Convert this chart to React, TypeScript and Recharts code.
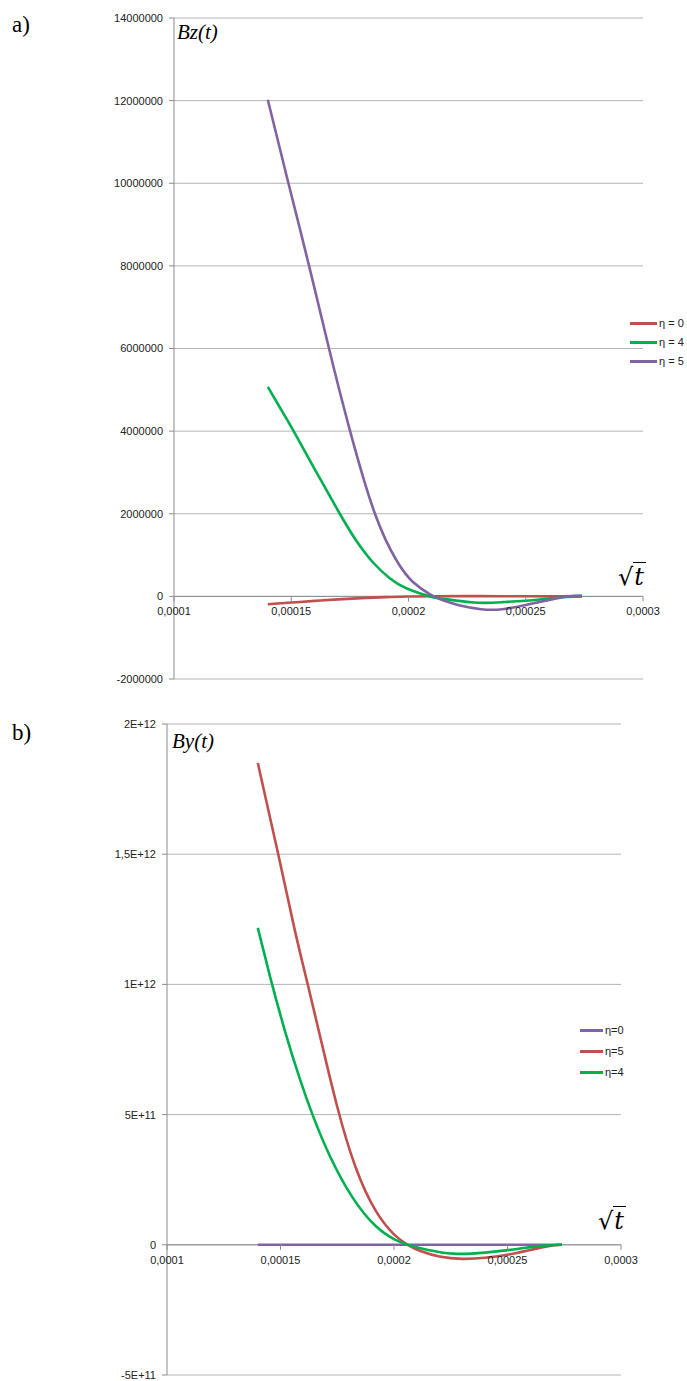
import React from "react";
import { LineChart, Line, XAxis, YAxis, CartesianGrid, ReferenceLine } from "recharts";

// ---------- shared x axis ----------
const X_TICKS = [0.0001, 0.00015, 0.0002, 0.00025, 0.0003];
const X_TICK_LABELS = ["0,0001", "0,00015", "0,0002", "0,00025", "0,0003"];

// ---------- chart a: Bz(t) ----------
const BZ_Y_TICKS = [-2000000, 0, 2000000, 4000000, 6000000, 8000000, 10000000, 12000000, 14000000];
const BZ_ETA0_X = [0.00014, 0.00015, 0.00016, 0.00017, 0.00018, 0.00019, 0.0002, 0.00021, 0.00023, 0.00025, 0.000274];
const BZ_ETA0_Y = [-190000, -150000, -110000, -72000, -42000, -18000, -3000, 3000, 5000, 3000, 0];
const BZ_ETA4_X = [0.00014, 0.0001456, 0.0001512, 0.0001601, 0.0001704, 0.0001776, 0.0001849, 0.000192, 0.0001993, 0.0002092, 0.000215, 0.000228, 0.00024, 0.000255, 0.000265, 0.000274];
const BZ_ETA4_Y = [5070000, 4530000, 3980000, 3070000, 2030000, 1360000, 820000, 440000, 190000, 0, -60000, -150000, -140000, -80000, -20000, 0];
const BZ_ETA5_X = [0.00014, 0.0001488, 0.0001576, 0.0001661, 0.0001751, 0.0001857, 0.0001951, 0.0002019, 0.0002092, 0.000215, 0.000222, 0.000231, 0.00024, 0.00025, 0.00026, 0.000268, 0.000274];
const BZ_ETA5_Y = [12020000, 10000000, 8000000, 6000000, 4000000, 2000000, 850000, 350000, 50000, -100000, -220000, -310000, -310000, -210000, -85000, 0, 20000];

// ---------- chart b: By(t) ----------
const BY_Y_TICKS = [-500000000000, 0, 500000000000, 1000000000000, 1500000000000, 2000000000000];
const BY_Y_LABELS = ["-5E+11", "0", "5E+11", "1E+12", "1,5E+12", "2E+12"];
const BY_ETA0_X = [0.00014, 0.00018, 0.00022, 0.000274];
const BY_ETA0_Y = [0, 0, 0, 0];
const BY_ETA5_X = [0.00014, 0.000149, 0.000156, 0.000162, 0.000168, 0.000175, 0.000183, 0.000192, 0.0002, 0.000206, 0.000212, 0.00022, 0.00023, 0.00024, 0.00025, 0.00026, 0.000268, 0.000274];
const BY_ETA5_Y = [1.85e12, 1.5e12, 1.22e12, 1.0e12, 0.78e12, 0.53e12, 0.3e12, 0.13e12, 0.04e12, 0, -0.025e12, -0.045e12, -0.054e12, -0.05e12, -0.038e12, -0.02e12, -0.005e12, 0];
const BY_ETA4_X = [0.00014, 0.0001454, 0.000152, 0.0001586, 0.0001643, 0.0001718, 0.0001815, 0.0001916, 0.0002004, 0.0002075, 0.000215, 0.000226, 0.00024, 0.000255, 0.000265, 0.000274];
const BY_ETA4_Y = [1.217e12, 1.03e12, 0.82e12, 0.635e12, 0.495e12, 0.34e12, 0.185e12, 0.075e12, 0.02e12, -0.004e12, -0.02e12, -0.034e12, -0.03e12, -0.015e12, -0.004e12, 0];

const RED = "#c0504d";
const GREEN = "#00b050";
const PURPLE = "#8064a2";

const zip = (xs: number[], ys: number[]) => xs.map((x, i) => ({ x, y: ys[i] }));

const FONT = "'Liberation Sans', Arial, sans-serif";
const AXIS = "#8c8c8c";
const GRID = "#b4b4b4";
const TXT = "#222";

type SeriesDef = { name: string; color: string; data: { x: number; y: number }[] };

type PanelProps = {
  top: number;
  height: number;
  plotLeft: number;
  plotRight: number;
  plotTop: number;
  plotBottom: number;
  yTicks: number[];
  yFmt: (v: number) => string;
  series: SeriesDef[];
};

const Y_AXIS_W = 70;
const X_AXIS_H = 10;

function Panel(p: PanelProps) {
  const W = 687;
  const plotH = p.plotBottom - p.plotTop;
  const yMin = p.yTicks[0];
  const yMax = p.yTicks[p.yTicks.length - 1];
  const upFromBottom = (plotH * (0 - yMin)) / (yMax - yMin);
  const margin = {
    top: p.plotTop,
    bottom: p.height - p.plotBottom - X_AXIS_H,
    left: p.plotLeft - Y_AXIS_W,
    right: W - p.plotRight,
  };
  const XTick = (props: any) => {
    const { x, y, payload } = props;
    const y0 = y - upFromBottom;
    const idx = X_TICKS.indexOf(payload.value);
    return (
      <g>
        <line x1={x} x2={x} y1={y0} y2={y0 + 5} stroke={AXIS} strokeWidth={1} />
        <text x={x} y={y0 + 19} textAnchor="middle" fontSize={11} fontFamily={FONT} fill={TXT}>
          {idx >= 0 ? X_TICK_LABELS[idx] : String(payload.value)}
        </text>
      </g>
    );
  };
  return (
    <div style={{ position: "absolute", left: 0, top: p.top }}>
      <LineChart width={W} height={p.height} margin={margin}>
        <CartesianGrid vertical={false} stroke={GRID} strokeWidth={1} />
        <XAxis
          type="number"
          dataKey="x"
          domain={[X_TICKS[0], X_TICKS[X_TICKS.length - 1]]}
          ticks={X_TICKS}
          interval={0}
          allowDataOverflow
          axisLine={false}
          tickLine={false}
          tickSize={0}
          tickMargin={0}
          height={X_AXIS_H}
          tick={XTick}
        />
        <YAxis
          type="number"
          domain={[yMin, yMax]}
          ticks={p.yTicks}
          interval={0}
          allowDataOverflow
          width={Y_AXIS_W}
          axisLine={{ stroke: AXIS, strokeWidth: 1 }}
          tickLine={{ stroke: AXIS, strokeWidth: 1 }}
          tickSize={5}
          tickMargin={6}
          tick={{ fontSize: 11, fontFamily: FONT, fill: TXT }}
          tickFormatter={p.yFmt}
        />
        <ReferenceLine y={0} stroke={AXIS} strokeWidth={1} ifOverflow="extendDomain" />
        {p.series.map((s) => (
          <Line
            key={s.name}
            data={s.data}
            dataKey="y"
            name={s.name}
            type="natural"
            stroke={s.color}
            strokeWidth={2.6}
            dot={false}
            activeDot={false}
            isAnimationActive={false}
          />
        ))}
      </LineChart>
    </div>
  );
}

function LegendBox({ left, top, gap, lineW, series }: { left: number; top: number; gap: number; lineW: number; series: SeriesDef[] }) {
  return (
    <div style={{ position: "absolute", left, top, fontFamily: FONT, fontSize: 11, color: TXT }}>
      {series.map((s, i) => (
        <div key={s.name} style={{ position: "absolute", top: i * gap, left: 0, display: "flex", alignItems: "center", whiteSpace: "nowrap", height: 14 }}>
          <div style={{ width: lineW, height: 3, background: s.color, marginRight: 2 }} />
          <span>{s.name}</span>
        </div>
      ))}
    </div>
  );
}

function SqrtT({ left, top }: { left: number; top: number }) {
  return (
    <div style={{ position: "absolute", left, top, fontFamily: "'DejaVu Serif', serif", fontSize: 24, lineHeight: "28px", color: "#000", whiteSpace: "nowrap" }}>
      <span>√</span>
      <span style={{ borderTop: "1.5px solid #000", fontStyle: "italic", paddingLeft: 1, paddingRight: 2 }}>t</span>
    </div>
  );
}

export default function App() {
  const bzSeries: SeriesDef[] = [
    { name: "η = 0", color: RED, data: zip(BZ_ETA0_X, BZ_ETA0_Y) },
    { name: "η = 4", color: GREEN, data: zip(BZ_ETA4_X, BZ_ETA4_Y) },
    { name: "η = 5", color: PURPLE, data: zip(BZ_ETA5_X, BZ_ETA5_Y) },
  ];
  const bySeries: SeriesDef[] = [
    { name: "η=0", color: PURPLE, data: zip(BY_ETA0_X, BY_ETA0_Y) },
    { name: "η=5", color: RED, data: zip(BY_ETA5_X, BY_ETA5_Y) },
    { name: "η=4", color: GREEN, data: zip(BY_ETA4_X, BY_ETA4_Y) },
  ];
  const labelStyle: React.CSSProperties = {
    position: "absolute",
    fontFamily: "'Liberation Serif', 'Times New Roman', serif",
    color: "#000",
    whiteSpace: "nowrap",
  };
  return (
    <div style={{ position: "absolute", left: 0, top: 0, width: 687, height: 1381, background: "#fff", overflow: "hidden" }}>
      <Panel
        top={0}
        height={700}
        plotLeft={174}
        plotRight={643}
        plotTop={18}
        plotBottom={679}
        yTicks={BZ_Y_TICKS}
        yFmt={(v) => String(v)}
        series={bzSeries}
      />
      <Panel
        top={700}
        height={681}
        plotLeft={167}
        plotRight={621}
        plotTop={24}
        plotBottom={675}
        yTicks={BY_Y_TICKS}
        yFmt={(v) => {
          const i = BY_Y_TICKS.indexOf(v);
          return i >= 0 ? BY_Y_LABELS[i] : String(v);
        }}
        series={bySeries}
      />
      <div style={{ ...labelStyle, left: 12, top: 12, fontSize: 23 }}>a)</div>
      <div style={{ ...labelStyle, left: 12, top: 720, fontSize: 23 }}>b)</div>
      <div style={{ ...labelStyle, left: 177, top: 20, fontSize: 21, fontStyle: "italic" }}>Bz(t)</div>
      <div style={{ ...labelStyle, left: 172, top: 729, fontSize: 21, fontStyle: "italic" }}>By(t)</div>
      <SqrtT left={618} top={563} />
      <SqrtT left={598} top={1207} />
      <LegendBox left={630} top={316} gap={19} lineW={27} series={bzSeries} />
      <LegendBox left={580} top={1023} gap={21} lineW={23} series={bySeries} />
    </div>
  );
}
